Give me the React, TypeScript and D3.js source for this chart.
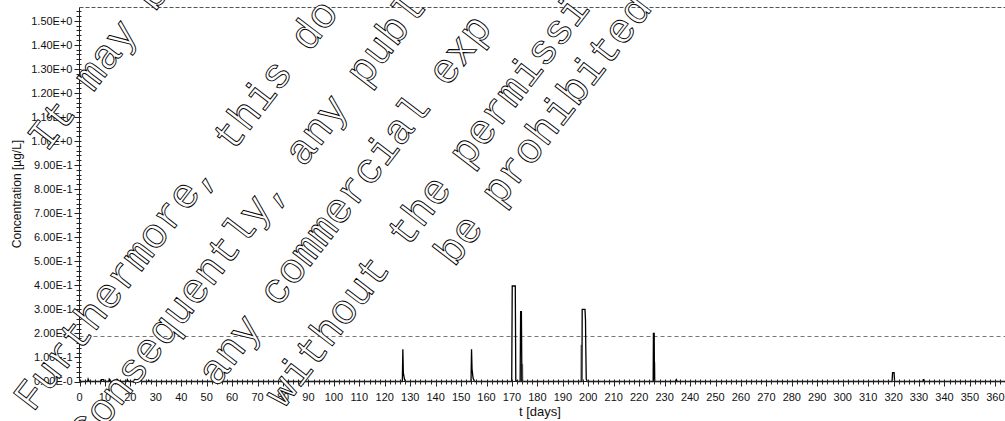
import React, { useEffect } from "react";
import * as d3 from "d3";

// ---------------- data ----------------
const yTickValues = [0, 0.1, 0.2, 0.3, 0.4, 0.5, 0.6, 0.7, 0.8, 0.9, 1.0, 1.1, 1.2, 1.3, 1.4, 1.5];
const yTickLabels = [
  "0.00E-0", "1.00E-1", "2.00E-1", "3.00E-1", "4.00E-1", "5.00E-1", "6.00E-1", "7.00E-1",
  "8.00E-1", "9.00E-1", "1.00E+0", "1.10E+0", "1.20E+0", "1.30E+0", "1.40E+0", "1.50E+0",
];
const xTickValues = [0, 10, 20, 30, 40, 50, 60, 70, 80, 90, 100, 110, 120, 130, 140, 150, 160, 170, 180,
  190, 200, 210, 220, 230, 240, 250, 260, 270, 280, 290, 300, 310, 320, 330, 340, 350, 360];
const xTickLabels = xTickValues.map(String);

const xDomain = [0, 365];
const yDomain = [0, 1.555];
const thresholdValue = 0.188;

// main (black) concentration series: [t days, concentration µg/L]
const seriesMain: [number, number][] = [
  [0, 0], [3.2, 0], [3.4, 0.01], [3.8, 0], [8.5, 0], [8.7, 0.008], [9.5, 0.008], [9.7, 0],
  [11.5, 0], [11.7, 0.01], [12.3, 0], [14.6, 0], [14.8, 0.009], [15.6, 0], [18.6, 0], [18.8, 0.008],
  [19.3, 0], [23.6, 0], [23.8, 0.006], [24.4, 0], [27.0, 0], [27.2, 0.005], [27.6, 0],
  [126.9, 0], [127.1, 0.134], [127.3, 0.036], [127.7, 0.012], [128.1, 0],
  [153.9, 0], [154.1, 0.134], [154.3, 0.052], [154.7, 0.014], [155.3, 0],
  [169.9, 0], [170.1, 0.397], [171.3, 0.397], [171.5, 0.004], [172.2, 0],
  [173.2, 0], [173.4, 0.29], [173.7, 0.29], [173.9, 0],
  [197.5, 0], [197.6, 0.30], [198.7, 0.30], [198.9, 0.255], [199.0, 0.15], [199.2, 0.01], [199.6, 0],
  [225.5, 0], [225.6, 0.20], [225.9, 0.20], [226.0, 0],
  [234.6, 0], [234.7, 0.006], [235.0, 0],
  [319.4, 0], [319.6, 0.037], [320.2, 0.037], [320.4, 0],
  [331.6, 0], [331.7, 0.01], [331.9, 0],
  [365, 0],
];

// secondary (grey) series pulses
const seriesGreyA: [number, number][] = [[173.6, 0], [173.7, 0.07], [174.1, 0.07], [174.2, 0]];
const seriesGreyB: [number, number][] = [[197.1, 0], [197.2, 0.15], [197.6, 0.15]];
const seriesGreyC: [number, number][] = [[225.8, 0], [225.9, 0.077], [226.1, 0.077], [226.2, 0]];

// watermark text fragments (visible parts)
const watermarkLines = [
  "It may be",
  "Furthermore, this do",
  "Consequently, any publ",
  "any commercial exp",
  "without the permissi",
  "be prohibited",
];

// ---------------- layout ----------------
const W = 1005;
const H = 421;
const plotLeft = 79.5;
const plotTop = 7.5;
const plotBottom = 381.5;
const pxPerDay = 2.544;

const watermarkPos: [number, number][] = [
  [47, 153],
  [33, 413],
  [89, 448],
  [217, 388],
  [284, 409],
  [454, 268],
];

export default function App() {
  useEffect(() => {
    document.body.style.margin = "0";
  }, []);

  const x = d3.scaleLinear().domain(xDomain).range([plotLeft, plotLeft + (xDomain[1] - xDomain[0]) * pxPerDay]);
  const y = d3.scaleLinear().domain(yDomain).range([plotBottom, plotTop]);
  const line = d3.line<[number, number]>().x((d) => x(d[0])).y((d) => y(d[1]));

  const xMinor = d3.range(0, 366, 2).filter((v) => v % 10 !== 0);
  const yMinor = d3.range(0, 1.555, 0.02).filter((v) => Math.abs(v * 10 - Math.round(v * 10)) > 1e-6);

  const font = "'Liberation Sans', Arial, sans-serif";
  const right = W + 5;

  return (
    <svg width={W} height={H} style={{ position: "absolute", left: 0, top: 0, background: "#fff" }}>
      <rect x={0} y={0} width={W} height={H} fill="#fff" />
      {/* top dashed border */}
      <line x1={plotLeft} x2={right} y1={plotTop} y2={plotTop} stroke="#555" strokeDasharray="4,2" />
      {/* threshold */}
      <line x1={plotLeft} x2={right} y1={Math.round(y(thresholdValue)) + 0.5} y2={Math.round(y(thresholdValue)) + 0.5}
        stroke="#777" strokeDasharray="4,3" />

      {/* data */}
      <g fill="none" strokeLinejoin="miter">
        {[seriesGreyA, seriesGreyB, seriesGreyC].map((s, i) => (
          <path key={i} d={line(s) || ""} stroke="#8a8a8a" strokeWidth={1.5} />
        ))}
        <path d={line(seriesMain) || ""} stroke="#000" strokeWidth={1.3} />
      </g>

      {/* axes */}
      <line x1={plotLeft} x2={plotLeft} y1={plotTop} y2={plotBottom} stroke="#222" />
      <line x1={plotLeft} x2={right} y1={plotBottom} y2={plotBottom} stroke="#222" />
      <g stroke="#222">
        {yTickValues.map((v) => (
          <line key={"yM" + v} x1={plotLeft - 5} x2={plotLeft + 2} y1={Math.round(y(v)) + 0.5} y2={Math.round(y(v)) + 0.5} />
        ))}
        {yMinor.map((v) => (
          <line key={"ym" + v} x1={plotLeft - 3} x2={plotLeft + 2} y1={Math.round(y(v)) + 0.5} y2={Math.round(y(v)) + 0.5} />
        ))}
        {xTickValues.map((v) => (
          <line key={"xM" + v} x1={Math.round(x(v)) + 0.5} x2={Math.round(x(v)) + 0.5} y1={plotBottom - 2} y2={plotBottom + 5} />
        ))}
        {xMinor.map((v) => (
          <line key={"xm" + v} x1={Math.round(x(v)) + 0.5} x2={Math.round(x(v)) + 0.5} y1={plotBottom - 2} y2={plotBottom + 3} />
        ))}
      </g>
      <g fontFamily={font} fontSize={11} fill="#111">
        {yTickValues.map((v, i) => (
          <text key={"yl" + v} x={plotLeft - 7} y={y(v)} dy="0.35em" textAnchor="end">{yTickLabels[i]}</text>
        ))}
        {xTickValues.map((v, i) => (
          <text key={"xl" + v} x={x(v)} y={plotBottom + 19} textAnchor="middle">{xTickLabels[i]}</text>
        ))}
      </g>
      <text x={540} y={416} textAnchor="middle" fontFamily={font} fontSize={13} fill="#111">t [days]</text>
      <text transform={`translate(21,${194}) rotate(-90)`} textAnchor="middle" fontFamily={font} fontSize={12} fill="#111">
        Concentration [µg/L]
      </text>

      {/* watermark */}
      <g fontFamily="'Liberation Mono', 'Courier New', monospace" fontSize={42} fill="#fff" stroke="#000" strokeWidth={0.9}>
        {watermarkLines.map((t, i) => (
          <text key={i} transform={`translate(${watermarkPos[i][0]},${watermarkPos[i][1]}) rotate(-52.5)`} xmlSpace="preserve">{t}</text>
        ))}
      </g>
    </svg>
  );
}
